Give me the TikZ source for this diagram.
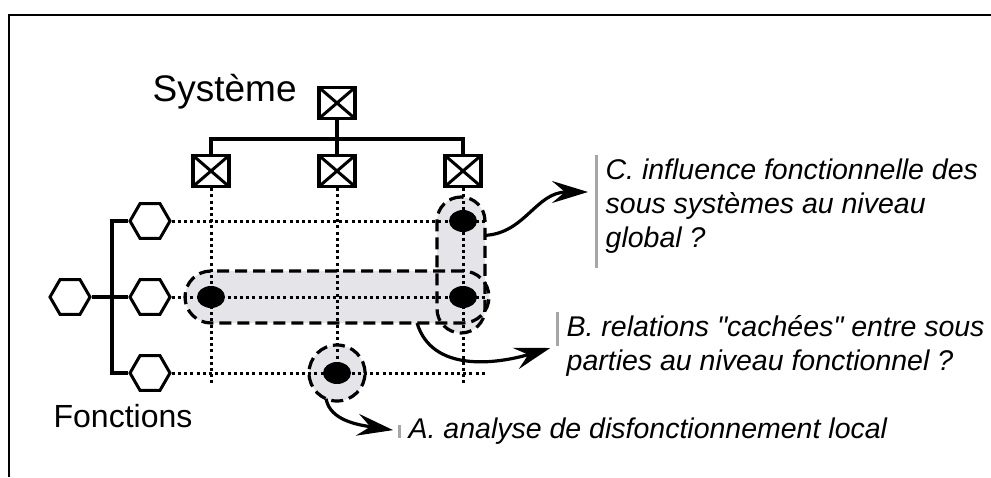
\documentclass[tikz,border=0pt]{standalone}
\usepackage{fontspec}
\setmainfont{Liberation Sans}[Ligatures=TeXOff]
\usetikzlibrary{arrows.meta, positioning, shapes.geometric, backgrounds}
\definecolor{ombre}{RGB}{229,228,232}

\begin{document}
\begin{tikzpicture}[x=1pt, y=-1pt, line width=3.3pt,
	boite/.style={draw, minimum width=36pt, minimum height=31pt, inner sep=0pt,
		path picture={\draw[line width=3pt] (path picture bounding box.north west) -- (path picture bounding box.south east)
			(path picture bounding box.south west) -- (path picture bounding box.north east);}},
	fonc/.style={draw, regular polygon, regular polygon sides=6, minimum size=40pt, inner sep=0pt, line width=3pt},
	point/.style={ellipse, fill=black, minimum width=28pt, minimum height=22pt, inner sep=0pt},
	zone/.style={draw, line width=3.2pt, dash pattern=on 12pt off 6pt, outer sep=0pt, inner sep=0pt},
	grille/.style={line width=3pt, dash pattern=on 3pt off 3.2pt},
	fleche/.style={-{Stealth[length=36pt, width=22pt, inset=13pt]}, line width=3.2pt},
	note/.style={font=\fontsize{28.5}{34}\selectfont\itshape, align=left, inner xsep=8pt, inner ysep=2pt},
	barre/.style={draw=gray!70, line width=3pt}]
	\useasboundingbox (0,0) rectangle (991,477);
	\draw[line width=2.2pt] (9,477) -- (9,15) -- (991,15);

	\node[boite] (sys) at (337,103) {};
	\node[boite] (s1) at (211,171) {};
	\node[boite] (s2) at (337,171) {};
	\node[boite] (s3) at (463,171) {};
	\coordinate (bus) at (337,139);
	\draw (sys.south) -- (s2.north);
	\draw (s1.north) |- (bus) -| (s3.north);

	\node[fonc] (f0) at (70,297) {};
	\node[fonc] (f1) at (150,221) {};
	\node[fonc] (f2) at (150,297) {};
	\node[fonc] (f3) at (150,373) {};
	\coordinate (noeud) at (112,297);
	\draw (f0.east) -- (f2.west);
	\draw (f1.west) -| (noeud) |- (f3.west);

	\node[font=\fontsize{37}{44}\selectfont, anchor=base west, inner sep=0pt] (systeme) at (151,101) {Système};
	\node[font=\fontsize{32}{38}\selectfont, anchor=base west, inner sep=0pt] (fonctions) at (52,427) {Fonctions};

	\coordinate (bas) at (0,383);
	\coordinate (droite) at (487,0);
	\foreach \s in {s1,s2,s3}
		\draw[grille] (\s.south) -- (\s |- bas);
	\foreach \f in {f1,f2,f3}
		\draw[grille] (\f.east) -- (\f -| droite);

	\node[point] (p1) at (s1 |- f2) {};
	\node[point] (p2) at (s3 |- f2) {};
	\node[point] (p3) at (s3 |- f1) {};
	\node[point] (p4) at (s2 |- f3) {};

	\node[zone, rounded corners=26pt, minimum width=304pt, minimum height=52pt] (regB) at (337,297) {};
	\node[zone, rounded corners=24pt, minimum width=48pt, minimum height=136pt] (regC) at (461,265) {};
	\node[zone, circle, minimum size=56pt] (regA) at (337,373) {};
	\begin{scope}[on background layer]
		\fill[ombre, rounded corners=26pt] (regB.north west) rectangle (regB.south east);
		\fill[ombre, rounded corners=24pt] (regC.north west) rectangle (regC.south east);
		\fill[ombre] (regA.center) circle[radius=28pt];
	\end{scope}

	\node[note, anchor=north west] (noteC) at (596,155) {C. influence fonctionnelle des\\sous systèmes au niveau\\global ?};
	\node[note, anchor=north west] (noteB) at (557,312) {B. relations "cachées" entre sous\\parties au niveau fonctionnel ?};
	\node[note, anchor=west] (noteA) at (399,431) {A. analyse de disfonctionnement local};
	\draw[barre] (noteC.north west) -- ++(0,37) coordinate (cibleC) -- ++(0,76);
	\draw[barre] (noteB.north west) -- ++(0,34) coordinate (cibleB);
	\draw[barre] (noteA.west) ++(0,-6) -- ++(0,13);

	\draw[fleche, shorten >=8pt] (regC.51) .. controls +(40,-2) and +(-60,0) .. (cibleC);
	\draw[fleche, shorten >=7pt] (regB.-18) .. controls +(15,50) and +(-60,18) .. (cibleB);
	\draw[fleche, shorten >=6pt] (regA.247) .. controls +(4,22) and +(-40,-6) .. (noteA.west);
\end{tikzpicture}
\end{document}
